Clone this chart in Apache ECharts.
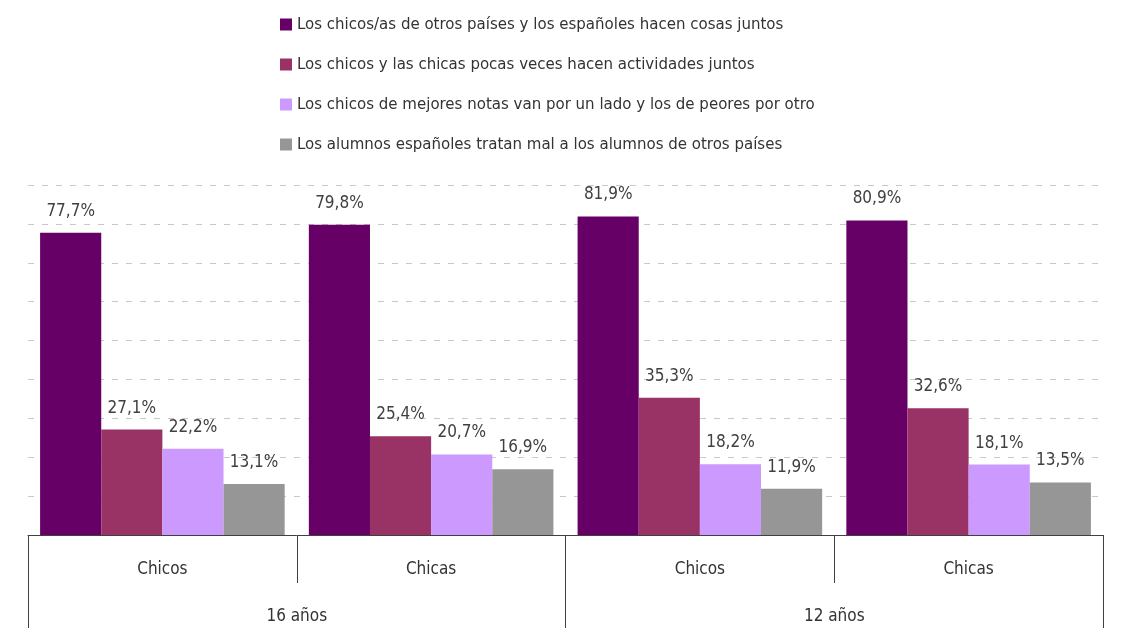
<!DOCTYPE html>
<html><head><meta charset="utf-8">
<script src="https://cdn.jsdelivr.net/npm/echarts@6/dist/echarts.min.js"></script>
<style>html,body{margin:0;padding:0;background:#fff}#c{width:1122px;height:628px}</style>
</head><body><div id="c"></div>
<script>
const categories = ['Chicos', 'Chicas', 'Chicos', 'Chicas'];
const groups = ['16 años', '12 años'];
const seriesNames = [
  'Los chicos/as de otros países y los españoles hacen cosas juntos',
  'Los chicos y las chicas pocas veces hacen actividades juntos',
  'Los chicos de mejores notas van por un lado y los de peores por otro',
  'Los alumnos españoles tratan mal a los alumnos de otros países'
];
const cosasJuntos = [77.7, 79.8, 81.9, 80.9];
const pocasVeces = [27.1, 25.4, 35.3, 32.6];
const mejoresNotas = [22.2, 20.7, 18.2, 18.1];
const tratanMal = [13.1, 16.9, 11.9, 13.5];
const colors = ['#660066', '#993366', '#cc99ff', '#969696'];

const FONT = '"DejaVu Sans Condensed", "Liberation Sans Narrow", "Open Sans", sans-serif';
const chart = echarts.init(document.getElementById('c'));
const allData = [cosasJuntos, pocasVeces, mejoresNotas, tratanMal];
chart.setOption({
  animation: false,
  textStyle: { fontFamily: FONT },
  legend: {
    orient: 'vertical', left: 275, top: 11,
    itemWidth: 12, itemHeight: 12, itemGap: 23,
    icon: 'rect',
    textStyle: { fontFamily: FONT, fontSize: 16.7, color: '#333' },
    data: seriesNames
  },
  grid: { left: 28, right: 19, top: 185, bottom: 93 },
  xAxis: [
    {
      type: 'category', data: categories, position: 'bottom',
      axisLine: { lineStyle: { color: '#404040', width: 1 } },
      axisTick: { show: true, length: 48, lineStyle: { color: '#404040' } },
      axisLabel: { fontFamily: FONT, fontSize: 17, color: '#333', margin: 26 }
    },
    {
      type: 'category', data: groups, position: 'bottom',
      axisLine: { show: false },
      axisTick: { show: true, length: 95, lineStyle: { color: '#404040' } },
      axisLabel: { fontFamily: FONT, fontSize: 17, color: '#333', margin: 73 }
    }
  ],
  yAxis: {
    type: 'value', min: 0, max: 90, interval: 10,
    axisLabel: { show: false }, axisLine: { show: false }, axisTick: { show: false },
    splitLine: { lineStyle: { color: '#c8c8c8', type: [6, 8] } }
  },
  series: allData.map((d, i) => ({
    name: seriesNames[i], type: 'bar', data: d, xAxisIndex: 0,
    barGap: '0%', barCategoryGap: '9%',
    itemStyle: { color: colors[i] },
    label: {
      show: true, position: 'top', distance: 13,
      fontFamily: FONT, fontSize: 17, color: '#404040',
      formatter: p => p.value.toFixed(1).replace('.', ',') + '%'
    }
  }))
});
</script></body></html>
